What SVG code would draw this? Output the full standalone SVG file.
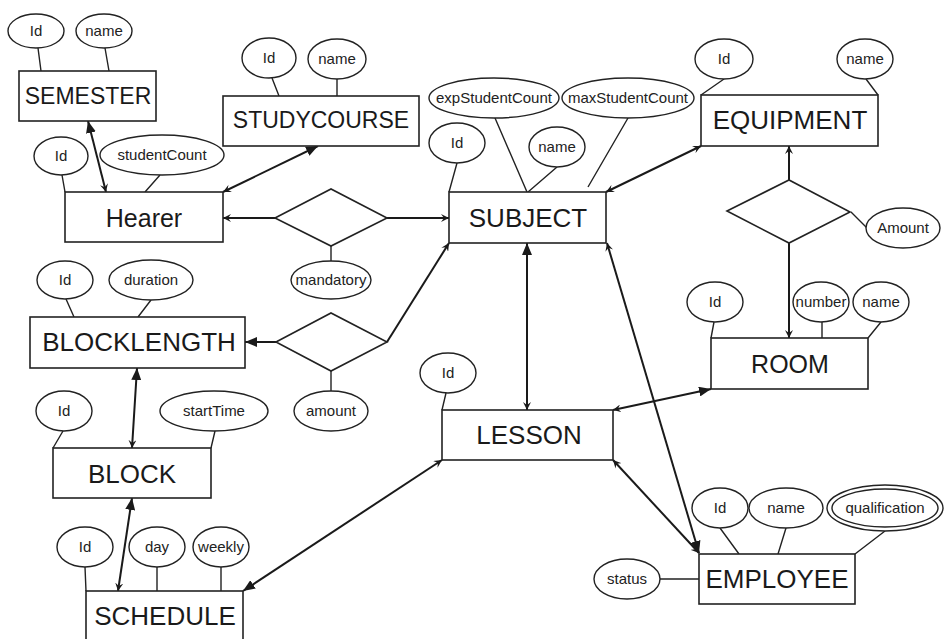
<svg xmlns="http://www.w3.org/2000/svg" width="952" height="639" viewBox="0 0 952 639">
<defs>
<style>
.ent{fill:#fff;stroke:#222;stroke-width:1.6}
.et{font-family:"Liberation Sans",Arial,sans-serif;font-size:26px;fill:#1a1a1a;text-anchor:middle}
.att{fill:#fff;stroke:#222;stroke-width:1.4}
.at{font-family:"Liberation Sans",Arial,sans-serif;font-size:15px;fill:#222;text-anchor:middle}
.al{stroke:#222;stroke-width:1.4;fill:none}
.rel{fill:#fff;stroke:#222;stroke-width:1.6}
.con{stroke:#1a1a1a;stroke-width:2;fill:none}
</style>
<marker id="big" viewBox="0 0 12 10" refX="12" refY="5" markerWidth="12" markerHeight="10" markerUnits="userSpaceOnUse" orient="auto-start-reverse"><path d="M0,0 L12,5 L0,10 z" fill="#1a1a1a"/></marker>
<marker id="small" viewBox="0 0 8 8" refX="8" refY="4" markerWidth="8" markerHeight="8" markerUnits="userSpaceOnUse" orient="auto-start-reverse"><path d="M0,0 L8,4 L0,8 L3,4 z" fill="#1a1a1a"/></marker>
</defs>
<rect width="952" height="639" fill="#fff"/>

<g id="attr-lines">
<path class="al" d="M38,48 L41,71 M105,48 L109,71"/>
<path class="al" d="M272,78 L279,96 M337,79 L337,96"/>
<path class="al" d="M62,175 L65,192 M160,175 L145,192"/>
<path class="al" d="M457,163 L449,192 M557,167 L528,192 M495,118 L527,192 M628,118 L588,187"/>
<path class="al" d="M724,79 L701,95 M866,79 L878,95"/>
<path class="al" d="M714,322 L711,338 M822,322 L822,338 M881,322 L868,338"/>
<path class="al" d="M66,299 L74,317 M151,300 L138,317"/>
<path class="al" d="M63,431 L53,448 M215,431 L211,448"/>
<path class="al" d="M85,567 L86,591 M157,567 L157,591 M221,567 L221,591"/>
<path class="al" d="M446,393 L442,410"/>
<path class="al" d="M720,528 L739,554 M786,528 L778,554 M885,531 L855,554 M660,579 L699,579"/>
<path class="al" d="M331,246 L331,262 M331,371 L331,392 M851,212 L867,228"/>
</g>

<g id="connectors">
<path class="con" d="M106,192 L88,121" marker-start="url(#small)" marker-end="url(#big)"/>
<path class="con" d="M223,192 L318,146" marker-start="url(#small)" marker-end="url(#big)"/>
<path class="con" d="M275,218 L223,218" marker-end="url(#small)"/>
<path class="con" d="M387,218 L449,218" marker-end="url(#small)"/>
<path class="con" d="M606,192 L701,146" marker-start="url(#small)" marker-end="url(#small)"/>
<path class="con" d="M789,181 L789,146" marker-end="url(#small)"/>
<path class="con" d="M789,243 L789,338" marker-end="url(#small)"/>
<path class="con" d="M527,410 L527,243" marker-start="url(#small)" marker-end="url(#big)"/>
<path class="con" d="M607,243 L699,553" marker-start="url(#small)" marker-end="url(#big)"/>
<path class="con" d="M613,410 L711,389" marker-start="url(#small)" marker-end="url(#big)"/>
<path class="con" d="M613,460 L699,553" marker-start="url(#small)" marker-end="url(#small)"/>
<path class="con" d="M442,460 L243,591" marker-start="url(#small)" marker-end="url(#big)"/>
<path class="con" d="M387,342 L449,243" marker-end="url(#small)"/>
<path class="con" d="M276,342 L245,342" marker-end="url(#big)"/>
<path class="con" d="M132,448 L137,368" marker-start="url(#small)" marker-end="url(#big)"/>
<path class="con" d="M118,591 L132,498" marker-start="url(#small)" marker-end="url(#big)"/>
</g>

<g id="rel-hearer-subject"><polygon class="rel" points="275,218 331,189 387,218 331,246"/></g>
<g id="rel-blocklength-subject"><polygon class="rel" points="276,342 331,313 387,342 331,371"/></g>
<g id="rel-equipment-room"><polygon class="rel" points="727,211 789,180 850,212 789,243"/></g>

<g id="SEMESTER"><rect class="ent" x="19" y="71" width="137" height="50"/><text class="et" x="88" y="104" style="font-size:23px">SEMESTER</text></g>
<g id="STUDYCOURSE"><rect class="ent" x="223" y="96" width="196" height="50"/><text class="et" x="321" y="128" style="font-size:23px">STUDYCOURSE</text></g>
<g id="Hearer"><rect class="ent" x="65" y="192" width="158" height="50"/><text class="et" x="144" y="227" style="font-size:25px">Hearer</text></g>
<g id="SUBJECT"><rect class="ent" x="449" y="192" width="157" height="51"/><text class="et" x="528" y="227">SUBJECT</text></g>
<g id="EQUIPMENT"><rect class="ent" x="701" y="95" width="177" height="51"/><text class="et" x="790" y="129">EQUIPMENT</text></g>
<g id="BLOCKLENGTH"><rect class="ent" x="30" y="317" width="215" height="51"/><text class="et" x="139" y="351">BLOCKLENGTH</text></g>
<g id="ROOM"><rect class="ent" x="711" y="338" width="157" height="51"/><text class="et" x="790" y="373" style="font-size:25px">ROOM</text></g>
<g id="LESSON"><rect class="ent" x="442" y="410" width="171" height="50"/><text class="et" x="529" y="444">LESSON</text></g>
<g id="BLOCK"><rect class="ent" x="53" y="448" width="158" height="50"/><text class="et" x="132" y="483">BLOCK</text></g>
<g id="SCHEDULE"><rect class="ent" x="86" y="591" width="157" height="52"/><text class="et" x="165" y="625">SCHEDULE</text></g>
<g id="EMPLOYEE"><rect class="ent" x="699" y="554" width="156" height="50"/><text class="et" x="777" y="588">EMPLOYEE</text></g>

<g id="semester-id"><ellipse class="att" cx="36" cy="31" rx="28" ry="17"/><text class="at" x="36" y="36">Id</text></g>
<g id="semester-name"><ellipse class="att" cx="104" cy="31" rx="28" ry="17"/><text class="at" x="104" y="36">name</text></g>
<g id="studycourse-id"><ellipse class="att" cx="269" cy="58" rx="27" ry="20"/><text class="at" x="269" y="63">Id</text></g>
<g id="studycourse-name"><ellipse class="att" cx="337" cy="59" rx="29" ry="20"/><text class="at" x="337" y="64">name</text></g>
<g id="hearer-id"><ellipse class="att" cx="61" cy="156" rx="27" ry="19"/><text class="at" x="61" y="161">Id</text></g>
<g id="hearer-studentCount"><ellipse class="att" cx="162" cy="155" rx="62" ry="20"/><text class="at" x="162" y="160">studentCount</text></g>
<g id="subject-expStudentCount"><ellipse class="att" cx="494" cy="98" rx="65" ry="20"/><text class="at" x="494" y="103">expStudentCount</text></g>
<g id="subject-maxStudentCount"><ellipse class="att" cx="628" cy="98" rx="66" ry="20"/><text class="at" x="628" y="103">maxStudentCount</text></g>
<g id="subject-id"><ellipse class="att" cx="457" cy="143" rx="28" ry="20"/><text class="at" x="457" y="148">Id</text></g>
<g id="subject-name"><ellipse class="att" cx="557" cy="147" rx="28" ry="20"/><text class="at" x="557" y="152">name</text></g>
<g id="equipment-id"><ellipse class="att" cx="724" cy="59" rx="29" ry="20"/><text class="at" x="724" y="64">Id</text></g>
<g id="equipment-name"><ellipse class="att" cx="865" cy="59" rx="28" ry="20"/><text class="at" x="865" y="64">name</text></g>
<g id="rel-amount-equip"><ellipse class="att" cx="903" cy="228" rx="37" ry="20"/><text class="at" x="903" y="233">Amount</text></g>
<g id="room-id"><ellipse class="att" cx="715" cy="302" rx="28" ry="20"/><text class="at" x="715" y="307">Id</text></g>
<g id="room-number"><ellipse class="att" cx="821" cy="302" rx="28" ry="20"/><text class="at" x="821" y="307">number</text></g>
<g id="room-name"><ellipse class="att" cx="881" cy="302" rx="28" ry="20"/><text class="at" x="881" y="307">name</text></g>
<g id="rel-mandatory"><ellipse class="att" cx="331" cy="280" rx="40" ry="19"/><text class="at" x="331" y="285">mandatory</text></g>
<g id="rel-amount"><ellipse class="att" cx="331" cy="411" rx="37" ry="20"/><text class="at" x="331" y="416">amount</text></g>
<g id="blocklength-id"><ellipse class="att" cx="65" cy="280" rx="28" ry="19"/><text class="at" x="65" y="285">Id</text></g>
<g id="blocklength-duration"><ellipse class="att" cx="151" cy="280" rx="42" ry="20"/><text class="at" x="151" y="285">duration</text></g>
<g id="block-id"><ellipse class="att" cx="64" cy="411" rx="28" ry="20"/><text class="at" x="64" y="416">Id</text></g>
<g id="block-startTime"><ellipse class="att" cx="214" cy="411" rx="54" ry="20"/><text class="at" x="214" y="416">startTime</text></g>
<g id="schedule-id"><ellipse class="att" cx="85" cy="547" rx="28" ry="20"/><text class="at" x="85" y="552">Id</text></g>
<g id="schedule-day"><ellipse class="att" cx="157" cy="547" rx="28" ry="20"/><text class="at" x="157" y="552">day</text></g>
<g id="schedule-weekly"><ellipse class="att" cx="221" cy="547" rx="28" ry="20"/><text class="at" x="221" y="552">weekly</text></g>
<g id="lesson-id"><ellipse class="att" cx="448" cy="373" rx="28" ry="20"/><text class="at" x="448" y="378">Id</text></g>
<g id="employee-id"><ellipse class="att" cx="720" cy="508" rx="28" ry="20"/><text class="at" x="720" y="513">Id</text></g>
<g id="employee-name"><ellipse class="att" cx="786" cy="508" rx="37" ry="20"/><text class="at" x="786" y="513">name</text></g>
<g id="employee-qualification"><ellipse class="att" cx="885" cy="508" rx="58" ry="23"/><ellipse class="att" cx="885" cy="508" rx="53" ry="19"/><text class="at" x="885" y="513">qualification</text></g>
<g id="employee-status"><ellipse class="att" cx="627" cy="579" rx="33" ry="20"/><text class="at" x="627" y="584">status</text></g>
</svg>
